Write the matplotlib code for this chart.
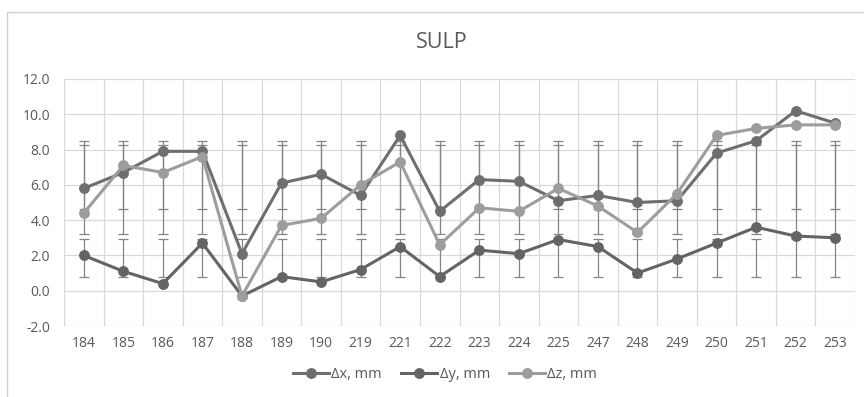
import numpy as np
import matplotlib.pyplot as plt
from matplotlib.patches import Rectangle

# categories (point ids)
points = ["184", "185", "186", "187", "188", "189", "190", "219", "221", "222",
          "223", "224", "225", "247", "248", "249", "250", "251", "252", "253"]

# displacements, mm
dx = [5.8, 6.7, 7.9, 7.9, 2.1, 6.1, 6.6, 5.4, 8.8, 4.5,
      6.3, 6.2, 5.1, 5.4, 5.0, 5.1, 7.8, 8.5, 10.2, 9.5]
dy = [2.0, 1.1, 0.4, 2.7, -0.3, 0.8, 0.5, 1.2, 2.5, 0.8,
      2.3, 2.1, 2.9, 2.5, 1.0, 1.8, 2.7, 3.6, 3.1, 3.0]
dz = [4.4, 7.1, 6.7, 7.6, -0.3, 3.7, 4.1, 6.0, 7.3, 2.6,
      4.7, 4.5, 5.8, 4.8, 3.3, 5.5, 8.8, 9.2, 9.4, 9.4]

labels = ["\u0394x, mm", "\u0394y, mm", "\u0394z, mm"]
colors = ["#6e6e6e", "#646464", "#9d9d9d"]

plt.rcParams['font.family'] = ['Open Sans', 'DejaVu Sans']
txt = "#595959"

fig = plt.figure(figsize=(8.64, 3.97), dpi=100)
fig.patches.append(Rectangle((7 / 864, -0.1), 1.1, 1 - 11.5 / 397 + 0.1,
                             transform=fig.transFigure, fill=False,
                             edgecolor="#d0d0d0", linewidth=1.0))
ax = fig.add_axes([64 / 864, 1 - 326 / 397, (855 - 64) / 864, (326 - 79) / 397])

x = np.arange(len(points))

# excel-style standard deviation error bars (centred on series mean)
for vals in (dx, dy, dz):
    v = np.array(vals)
    m = v.mean()
    s = v.std(ddof=1)
    ax.errorbar(x, np.full(len(x), m), yerr=s, fmt="none", ecolor="#858585",
                elinewidth=0.9, capsize=3.3, capthick=0.9, zorder=2)

for vals, lab, c in zip((dx, dy, dz), labels, colors):
    ax.plot(x, vals, color=c, linewidth=2.2, marker="o", markersize=6.8,
            label=lab, zorder=3)

ax.set_xlim(-0.5, len(points) - 0.5)
ax.set_ylim(-2, 12)
ax.set_yticks(np.arange(-2, 12.1, 2))
ax.set_yticklabels([f"{t:.1f}" for t in np.arange(-2, 12.1, 2)])
ax.set_xticks(x)
ax.set_xticklabels(points)
ax.set_xticks(np.arange(-0.5, len(points), 1), minor=True)
ax.grid(axis="y", which="major", color="#d9d9d9", linewidth=0.9, zorder=0)
ax.grid(axis="x", which="minor", color="#d9d9d9", linewidth=0.9, zorder=0)
ax.tick_params(which="both", length=0)
ax.tick_params(axis="x", pad=7, labelsize=10, labelcolor=txt)
ax.tick_params(axis="y", pad=10, labelsize=10, labelcolor=txt)
for sp in ax.spines.values():
    sp.set_visible(False)

fig.text(442 / 864, 1 - 43 / 397, "SULP", ha="center", va="center",
         fontsize=15.5, color=txt)

fig.legend(loc="center", bbox_to_anchor=(445 / 864, 1 - 375 / 397), ncol=3,
           frameon=False, fontsize=10.5, labelcolor=txt, handlelength=2.5,
           handletextpad=0.15, columnspacing=1.3)

fig.savefig("out.png", dpi=100)
